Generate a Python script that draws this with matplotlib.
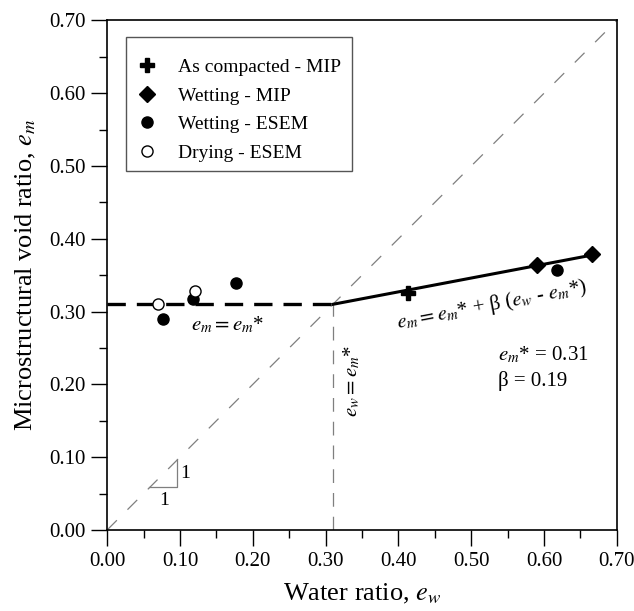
import matplotlib
matplotlib.use("Agg")
import matplotlib.pyplot as plt
from matplotlib.patches import Rectangle
import numpy as np

plt.rcParams['font.family'] = ['Liberation Serif', 'DejaVu Serif']
plt.rcParams['mathtext.fontset'] = 'stix'

# Measured data
compacted_mip_x = [0.413]
compacted_mip_y = [0.325]
wetting_mip_x = [0.590, 0.666]
wetting_mip_y = [0.364, 0.379]
wetting_esem_x = [0.077, 0.118, 0.177, 0.618]
wetting_esem_y = [0.290, 0.317, 0.339, 0.357]
drying_esem_x = [0.070, 0.121]
drying_esem_y = [0.310, 0.328]

# Model parameters
em_star = 0.31
beta = 0.19
ew_end = 0.666

x_ticks = [0.00, 0.10, 0.20, 0.30, 0.40, 0.50, 0.60, 0.70]
y_ticks = [0.00, 0.10, 0.20, 0.30, 0.40, 0.50, 0.60, 0.70]

fig = plt.figure(figsize=(6.34, 6.11), dpi=100)
ax = fig.add_axes([0.169, 0.1326, 0.804, 0.834])

gray = '#7f7f7f'
# 1:1 line and em* marker line
ax.plot([0, 0.7], [0, 0.7], color=gray, lw=0.9, dashes=(11, 12))
ax.plot([em_star, em_star], [0, em_star], color=gray, lw=0.9, dashes=(11, 8))

# Model: constant below em*, linear above
ax.plot([0, em_star], [em_star, em_star], color='black', lw=2.4, dashes=(5.5, 3.3))
ew = np.array([em_star, ew_end])
ax.plot(ew, em_star + beta * (ew - em_star), color='black', lw=2.2)

# Slope triangle
ax.plot([0.058, 0.096, 0.096], [0.059, 0.059, 0.097], color=gray, lw=0.9)
ax.text(0.078, 0.052, '1', ha='center', va='top', fontsize=14)
ax.text(0.101, 0.078, '1', ha='left', va='center', fontsize=14)

# Data series
ax.plot(compacted_mip_x, compacted_mip_y, 'P', color='black', ms=10, ls='none',
        label='As compacted - MIP')
ax.plot(wetting_mip_x, wetting_mip_y, 'D', color='black', ms=8, ls='none',
        label='Wetting - MIP')
ax.plot(wetting_esem_x, wetting_esem_y, 'o', color='black', ms=8, ls='none',
        label='Wetting - ESEM')
ax.plot(drying_esem_x, drying_esem_y, 'o', mfc='white', mec='black', mew=1.0, ms=8,
        ls='none', label='Drying - ESEM')

# Annotations
ax.text(0.165, 0.281, r'$e_m = e_m$*', ha='center', va='center', fontsize=15)
ax.text(0.528, 0.309, r'$e_m = e_m$* + β ($e_w$ - $e_m$*)', ha='center',
        va='center', fontsize=15, rotation=10.8, rotation_mode='anchor')
ax.text(0.336, 0.205, r'$e_w = e_m$*', ha='center', va='center', fontsize=15,
        rotation=90)
ax.text(0.537, 0.240, r'$e_m$* = 0.31', ha='left', va='center', fontsize=15)
ax.text(0.537, 0.204, 'β = 0.19', ha='left', va='center', fontsize=15)

ax.set_xlim(0, 0.7)
ax.set_ylim(0, 0.7)
ax.set_xticks(x_ticks)
ax.set_yticks(y_ticks)
ax.set_xticklabels([f'{v:.2f}' for v in x_ticks])
ax.set_yticklabels([f'{v:.2f}' for v in y_ticks])
ax.set_xticks(np.arange(0.05, 0.7, 0.1), minor=True)
ax.set_yticks(np.arange(0.05, 0.7, 0.1), minor=True)
ax.tick_params(which='major', direction='out', length=11.5, width=1.0, labelsize=15, pad=4)
ax.tick_params(which='minor', direction='out', length=6, width=1.0)
for s in ax.spines.values():
    s.set_linewidth(1.2)

ax.set_xlabel(r'Water ratio, $e_w$', fontsize=19, labelpad=8)
ax.set_ylabel(r'Microstructural void ratio, $e_m$', fontsize=19, labelpad=8)

# Legend box drawn separately so its padding can be set freely
ax.add_patch(Rectangle((0.037, 0.704), 0.443, 0.263, transform=ax.transAxes,
                       facecolor='white', edgecolor='#555555', lw=1.0, zorder=4))
leg = ax.legend(loc='upper left', bbox_to_anchor=(0.0598, 0.925), fontsize=14,
                frameon=False, handletextpad=1.1, borderpad=0, borderaxespad=0,
                labelspacing=0.56, handlelength=1.0)
leg.set_zorder(5)

fig.savefig('out.png', dpi=100)
